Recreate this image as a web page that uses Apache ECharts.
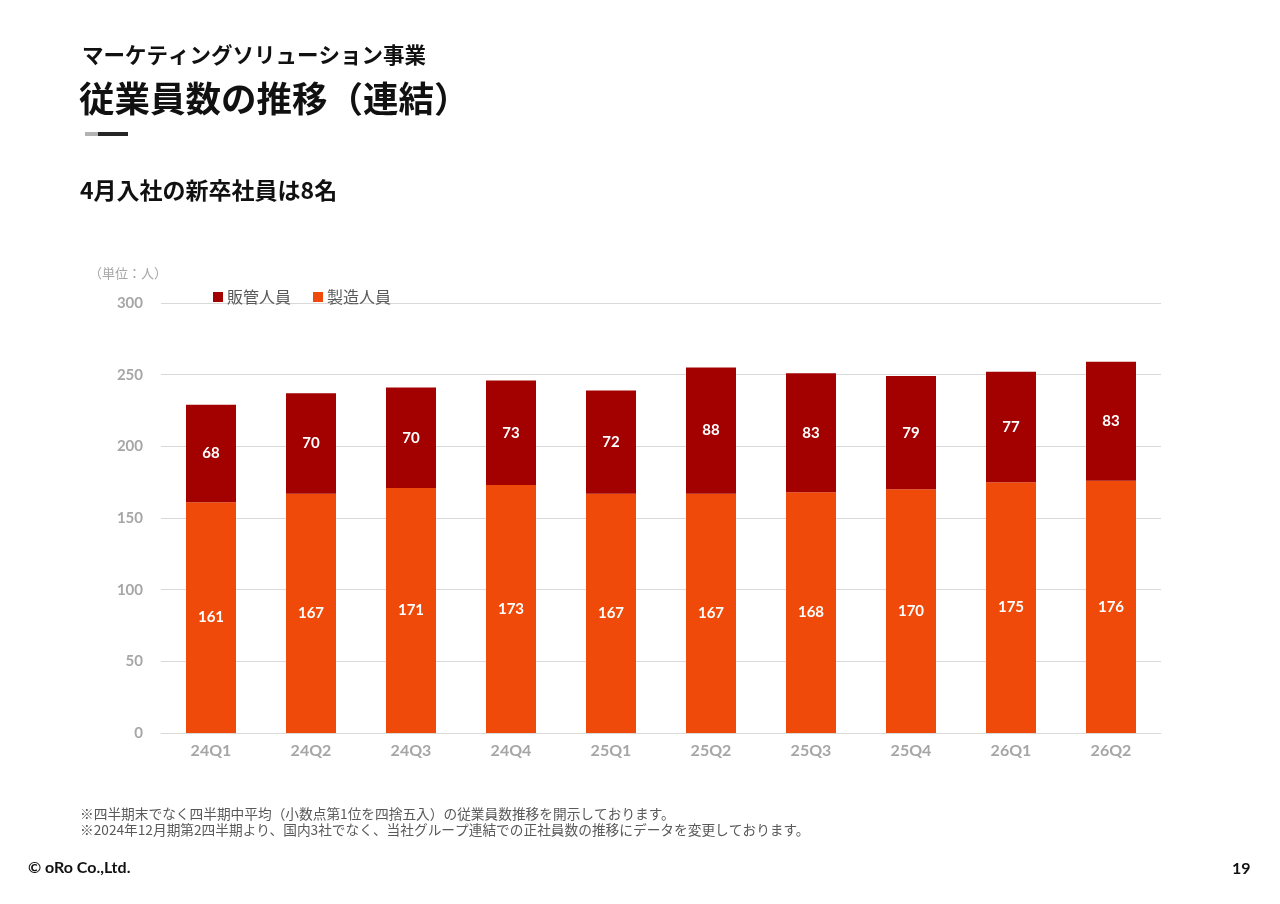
<!DOCTYPE html>
<html>
<head>
<meta charset="utf-8">
<script src="https://cdn.jsdelivr.net/npm/echarts@6/dist/echarts.min.js"></script>
<style>
  html, body { margin: 0; padding: 0; background: #fff; }
  #main { width: 1280px; height: 904px; }
</style>
</head>
<body>
<div id="main"></div>
<script>
// 四半期
var quarters = ["24Q1", "24Q2", "24Q3", "24Q4", "25Q1", "25Q2", "25Q3", "25Q4", "26Q1", "26Q2"];
// 製造人員
var manufacturing = [161, 167, 171, 173, 167, 167, 168, 170, 175, 176];
// 販管人員
var sales = [68, 70, 70, 73, 72, 88, 83, 79, 77, 83];

var jp = '"Noto Sans CJK JP", "Noto Sans", sans-serif';
var num = 'Lato, "Noto Sans", sans-serif';

var chart = echarts.init(document.getElementById("main"));
var option = {
  backgroundColor: "#fff",
  animation: false,
  color: ["#F04A0A", "#A30000"],
  grid: { left: 161, right: 119, top: 303, bottom: 171 },
  legend: {
    data: ["販管人員", "製造人員"],
    left: 208,
    top: 284,
    icon: "rect",
    itemWidth: 10,
    itemHeight: 10,
    itemGap: 22,
    itemStyle: { borderWidth: 0 },
    textStyle: { fontSize: 16, color: "#595959", fontFamily: jp, padding: [0, 0, 0, -1] }
  },
  xAxis: {
    type: "category",
    data: quarters,
    axisLine: { lineStyle: { color: "#D9D9D9", width: 1 } },
    axisTick: { show: false },
    axisLabel: { color: "#A6A6A6", fontSize: 16, fontWeight: "bold", fontFamily: num, margin: 10 }
  },
  yAxis: {
    type: "value",
    min: 0,
    max: 300,
    interval: 50,
    axisLine: { show: false },
    axisTick: { show: false },
    splitLine: { lineStyle: { color: "#D9D9D9", width: 1 } },
    axisLabel: { color: "#A6A6A6", fontSize: 15, fontWeight: "bold", fontFamily: num, margin: 18 }
  },
  series: [
    {
      name: "製造人員",
      type: "bar",
      stack: "total",
      barWidth: 50,
      data: manufacturing,
      label: { show: true, position: "inside", color: "#fff", fontSize: 15, fontWeight: "bold", fontFamily: num }
    },
    {
      name: "販管人員",
      type: "bar",
      stack: "total",
      barWidth: 50,
      data: sales,
      label: { show: true, position: "inside", color: "#fff", fontSize: 15, fontWeight: "bold", fontFamily: num }
    }
  ],
  graphic: [
    { type: "text", left: 82, top: 44, style: { text: "マーケティングソリューション事業", fontSize: 21.5, fontWeight: "bold", fill: "#111", fontFamily: jp } },
    { type: "text", left: 79, top: 81, style: { text: "従業員数の推移（連結）", fontSize: 35.5, fontWeight: "bold", fill: "#111", fontFamily: jp } },
    { type: "rect", shape: { x: 85, y: 132, width: 13, height: 4 }, style: { fill: "#B3B3B3" } },
    { type: "rect", shape: { x: 98, y: 132, width: 30, height: 4 }, style: { fill: "#262626" } },
    { type: "text", left: 80, top: 179, style: { text: "4月入社の新卒社員は8名", fontSize: 23, fontWeight: "bold", fill: "#111", fontFamily: jp } },
    { type: "text", left: 89, top: 267, style: { text: "（単位：人）", fontSize: 13, fill: "#A6A6A6", fontFamily: jp } },
    { type: "text", left: 80, top: 807, style: { text: "※四半期末でなく四半期中平均（小数点第1位を四捨五入）の従業員数推移を開示しております。", fontSize: 13.7, fill: "#595959", fontFamily: jp } },
    { type: "text", left: 80, top: 823, style: { text: "※2024年12月期第2四半期より、国内3社でなく、当社グループ連結での正社員数の推移にデータを変更しております。", fontSize: 13.7, fill: "#595959", fontFamily: jp } },
    { type: "text", left: 28, top: 860, style: { text: "© oRo Co.,Ltd.", fontSize: 16, fontWeight: "bold", fill: "#111", fontFamily: num } },
    { type: "text", left: 1232, top: 861, style: { text: "19", fontSize: 16, fontWeight: "bold", fill: "#111", fontFamily: num } }
  ]
};
chart.setOption(option);
window.onresize = function () {
  chart.resize();
};
</script>
</body>
</html>
